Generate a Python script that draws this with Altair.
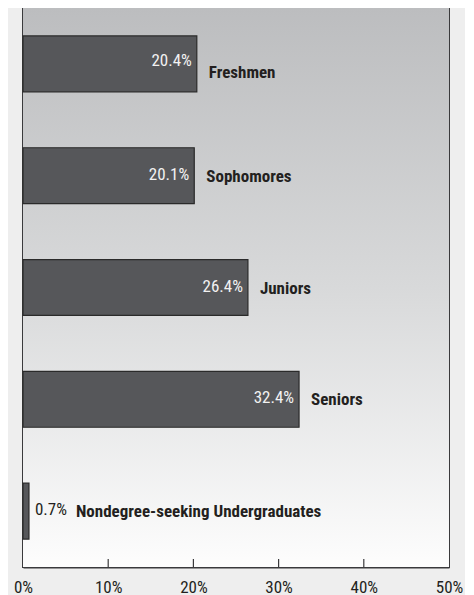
import altair as alt
import pandas as pd

categories = ["Freshmen", "Sophomores", "Juniors", "Seniors", "Nondegree-seeking Undergraduates"]
values = [20.4, 20.1, 26.4, 32.4, 0.7]
value_labels = ["20.4%", "20.1%", "26.4%", "32.4%", "0.7%"]
tick_values = [0, 10, 20, 30, 40, 50]
inner_ticks = [10, 20, 30, 40]

df = pd.DataFrame({"cat": categories, "val": values, "vlabel": value_labels})
ticks_df = pd.DataFrame({"t": inner_ticks})

W, H = 426, 559
FONT = "Roboto Condensed, Liberation Sans Narrow, Arial Narrow, Liberation Sans, sans-serif"

xscale = alt.Scale(domain=[0, 50], nice=False, zero=True)
yscale = alt.Scale(domain=categories, paddingInner=0.5, paddingOuter=0.25)

bg = alt.Chart(pd.DataFrame({"a": [0]})).mark_rect(
    color=alt.Gradient(
        gradient="linear",
        stops=[
            alt.GradientStop(color="#bcbdbf", offset=0),
            alt.GradientStop(color="#d8d9da", offset=0.5),
            alt.GradientStop(color="#fdfdfd", offset=1),
        ],
        x1=0, x2=0, y1=0, y2=1,
    )
).encode(x=alt.value(0), x2=alt.value("width"), y=alt.value(0), y2=alt.value("height"))

base = alt.Chart(df)

bars = base.mark_bar(fill="#56575a", stroke="#2a2a2a", strokeWidth=1.2).encode(
    x=alt.X("val:Q", scale=xscale,
            axis=alt.Axis(values=tick_values, labelExpr="datum.value + '%'", title=None,
                          ticks=False, grid=False, domainColor="#3a3a3c", domainWidth=2,
                          labelFont=FONT, labelFontSize=17, labelColor="#231f20",
                          labelPadding=12, labelFlush=False, labelOverlap=False)),
    y=alt.Y("cat:N", scale=yscale, axis=None, sort=categories),
)

enc = dict(x=alt.X("val:Q", scale=xscale), y=alt.Y("cat:N", scale=yscale, sort=categories))

first = base.transform_filter("datum.cat == 'Freshmen'")
inside = base.transform_filter("datum.val >= 5 && datum.cat != 'Freshmen'")
outside = base.transform_filter("datum.val < 5")

val_first = first.mark_text(align="right", baseline="middle", dx=-5, dy=-3,
                            font=FONT, fontSize=17, color="#f2f2f2").encode(text="vlabel:N", **enc)
cat_first = first.mark_text(align="left", baseline="middle", dx=12, dy=9,
                            font=FONT, fontSize=17, fontWeight="bold", color="#231f20").encode(text="cat:N", **enc)

val_in = inside.mark_text(align="right", baseline="middle", dx=-5, dy=-1,
                          font=FONT, fontSize=17, color="#f2f2f2").encode(text="vlabel:N", **enc)
cat_in = inside.mark_text(align="left", baseline="middle", dx=12, dy=1,
                          font=FONT, fontSize=17, fontWeight="bold", color="#231f20").encode(text="cat:N", **enc)

val_out = outside.mark_text(align="left", baseline="middle", dx=6, dy=-1,
                            font=FONT, fontSize=17, color="#231f20").encode(text="vlabel:N", **enc)
cat_out = outside.mark_text(align="left", baseline="middle", dx=47, dy=1,
                            font=FONT, fontSize=17, fontWeight="bold", color="#231f20").encode(text="cat:N", **enc)

tick_marks = alt.Chart(ticks_df).mark_rule(color="#3a3a3c", strokeWidth=1.2).encode(
    x=alt.X("t:Q", scale=xscale), y=alt.value(H), y2=alt.value(H - 8))

chart = alt.layer(bg, bars, val_first, cat_first, val_in, cat_in, val_out, cat_out, tick_marks).properties(
    width=W, height=H,
    autosize=alt.AutoSizeParams(type="none"),
    padding={"left": 15, "top": 0, "right": 16, "bottom": 28},
    background="#eeeeee",
).configure_view(stroke="#3a3a3c", strokeWidth=2)

chart.save("out.html", embed_options={"renderer": "svg", "actions": False})
